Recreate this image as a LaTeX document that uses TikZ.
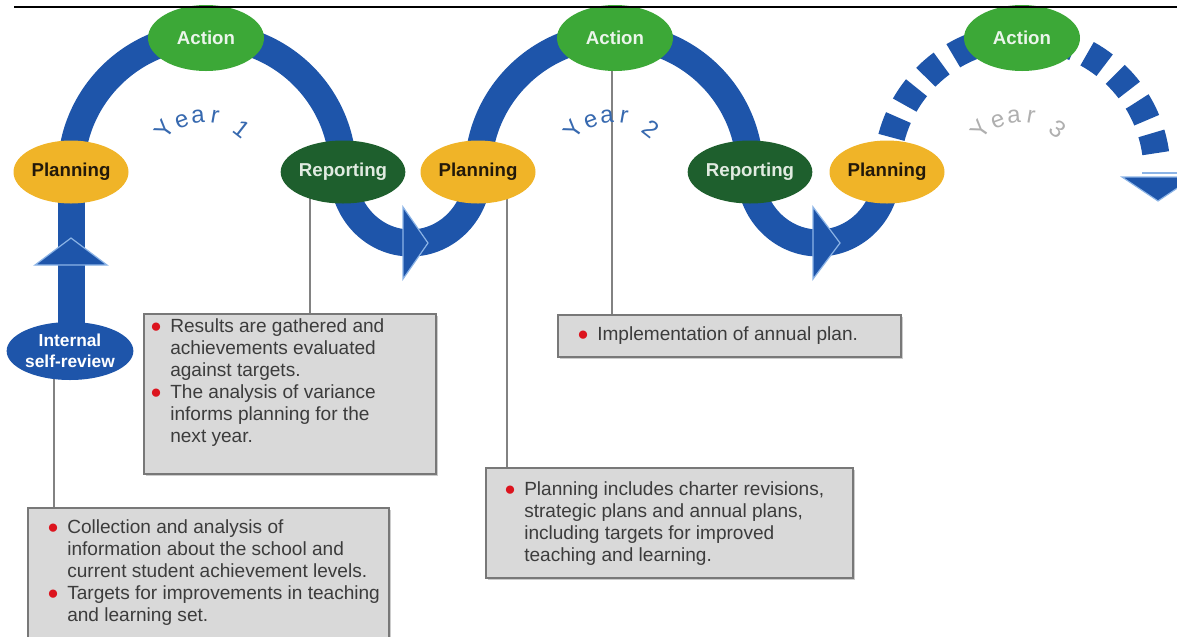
\documentclass[tikz,border=0pt]{standalone}
\usepackage{fontspec}
\setmainfont{Liberation Sans}
\usetikzlibrary{shapes.geometric,calc,shadows}
\definecolor{bandblue}{RGB}{30,85,170}
\definecolor{lightblue}{RGB}{140,180,230}
\definecolor{actgreen}{RGB}{60,168,55}
\definecolor{acttext}{RGB}{235,245,235}
\definecolor{plangold}{RGB}{240,180,40}
\definecolor{plantext}{RGB}{35,25,10}
\definecolor{repgreen}{RGB}{30,95,45}
\definecolor{reptext}{RGB}{225,235,225}
\definecolor{boxfill}{RGB}{217,217,217}
\definecolor{boxline}{RGB}{120,120,120}
\definecolor{conncol}{RGB}{130,130,130}
\definecolor{bulred}{RGB}{220,20,30}
\definecolor{yearblue}{RGB}{55,105,175}
\definecolor{yeargray}{RGB}{175,175,175}
\definecolor{boxtextcol}{RGB}{60,60,60}
\newcommand{\bl}{\makebox[15pt][l]{\textcolor{bulred}{●}}}
\newcommand{\ind}{\hspace*{15pt}}
\begin{document}
\begin{tikzpicture}[x=0.75pt,y=-0.75pt,
  band/.style={draw=bandblue, line width=20.25pt},
  dashband/.style={band, dash pattern=on 15.75pt off 10.5pt},
  oval/.style={ellipse, inner sep=0pt, font=\fontsize{14}{16}\selectfont\bfseries},
  actnode/.style={oval, fill=actgreen, text=acttext, minimum width=87pt, minimum height=49.5pt},
  plannode/.style={oval, fill=plangold, text=plantext, minimum width=86.25pt, minimum height=47.25pt},
  repnode/.style={oval, fill=repgreen, text=reptext, minimum width=86.25pt, minimum height=47.25pt},
  isrnode/.style={oval, fill=bandblue, text=white, minimum width=82.5pt, minimum height=43.5pt, align=center, font=\fontsize{13}{15.75}\selectfont\bfseries},
  infobox/.style={draw=boxline, fill=boxfill, line width=1.2pt, inner sep=0pt, anchor=north west,
    drop shadow={shadow xshift=1.5pt, shadow yshift=-1.5pt, fill=black, opacity=0.2}},
  boxtext/.style={anchor=north west, inner sep=0pt, align=left, text=boxtextcol, font=\fontsize{14.3}{16.5}\selectfont},
  conn/.style={draw=conncol, line width=1.5pt},
  yr/.style={inner sep=0pt, font=\fontsize{18}{18}\selectfont},
  arrowhd/.style={fill=bandblue, draw=lightblue, line width=0.9pt, line join=miter}
]
\useasboundingbox (0,0) rectangle (1177,636);
\clip (0,0) rectangle (1177,636);

% ellipse positions
\coordinate (p1) at (71,172);
\coordinate (p2) at (478,172);
\coordinate (p3) at (887,172);
\coordinate (r1) at (343,172);
\coordinate (r2) at (750,172);
\coordinate (is) at (70,351);

% bands
\draw[band] (p1) arc[start angle=180, end angle=360, radius=136];
\draw[band] (p2) arc[start angle=180, end angle=360, radius=136];
\draw[band] (r1) arc[start angle=180, end angle=0, x radius=67.5, y radius=71];
\draw[band] (r2) arc[start angle=180, end angle=0, x radius=68.5, y radius=71];
\draw[band] (p1) -- (p1 |- is);
\draw[dashband] (p3) arc[start angle=180, end angle=352, radius=135];

% arrowheads
\draw[arrowhd] (35,265) -- (71,238) -- (107,265) -- cycle;
\draw[arrowhd] (403,207) -- (428,243) -- (403,279) -- cycle;
\draw[arrowhd] (813,207) -- (840,243) -- (813,279) -- cycle;
\draw[arrowhd] (1122,177) -- (1158,201) -- (1194,177) -- cycle;
\draw[lightblue, line width=1.2pt] (1142,173) -- (1177,173);

% boxes
\node[infobox, minimum width=270.75pt, minimum height=120pt] (box1) at (27,507) {};
\node[infobox, minimum width=219pt, minimum height=120pt] (box2) at (143,313) {};
\node[infobox, minimum width=257.25pt, minimum height=31.5pt] (box3) at (557,314) {};
\node[infobox, minimum width=275.25pt, minimum height=82.5pt] (box4) at (485,467) {};

% connectors
\draw[conn] ($(is)+(-16,0)$) coordinate (c1) -- (c1 |- box1.north);
\draw[conn] ($(r1)+(-33,0)$) coordinate (c2) -- (c2 |- box2.north);
\draw[conn] (612,38) coordinate (c3) -- (c3 |- box3.north);
\draw[conn] ($(p2)+(29,0)$) coordinate (c4) -- (c4 |- box4.north);

% year labels
\foreach \cx/\col/\d in {206/yearblue/1,615/yearblue/2,1022/yeargray/3}{
  \node[yr, text=\col, rotate=55] (yr\d-a) at (\cx-42,129) {Y};
  \node[yr, text=\col, rotate=20] (yr\d-b) at (\cx-24,121) {e};
  \node[yr, text=\col, rotate=5] (yr\d-c) at (\cx-8,117) {a};
  \node[yr, text=\col, rotate=-10] (yr\d-d) at (\cx+9,117) {r};
  \node[yr, text=\col, rotate=-38] (yr\d-e) at (\cx+36,129) {\d};
}

% ellipses
\node[actnode] (act1) at (206,38) {Action};
\node[actnode] (act2) at (615,38) {Action};
\node[actnode] (act3) at (1022,38) {Action};
\node[plannode] (plan1) at (p1) {Planning};
\node[plannode] (plan2) at (p2) {Planning};
\node[plannode] (plan3) at (p3) {Planning};
\node[repnode] (rep1) at (r1) {Reporting};
\node[repnode] (rep2) at (r2) {Reporting};
\node[isrnode] (isr) at (is) {Internal\\self-review};

% box texts
\node[boxtext] (box1t) at ($(box1.north west)+(20,12)$) {\bl Collection and analysis of\\
\ind information about the school and\\
\ind current student achievement levels.\\
\bl Targets for improvements in teaching\\
\ind and learning set.};
\node[boxtext] (box2t) at ($(box2.north west)+(7,5)$) {\bl Results are gathered and\\
\ind achievements evaluated\\
\ind against targets.\\
\bl The analysis of variance\\
\ind informs planning for the\\
\ind next year.};
\node[boxtext] (box3t) at ($(box3.north west)+(20,12)$) {\bl Implementation of annual plan.};
\node[boxtext] (box4t) at ($(box4.north west)+(19,14)$) {\bl Planning includes charter revisions,\\
\ind strategic plans and annual plans,\\
\ind including targets for improved\\
\ind teaching and learning.};

% top rule
\draw[black, line width=1.5pt] (14,6.5) -- (1177,6.5);
\end{tikzpicture}
\end{document}
